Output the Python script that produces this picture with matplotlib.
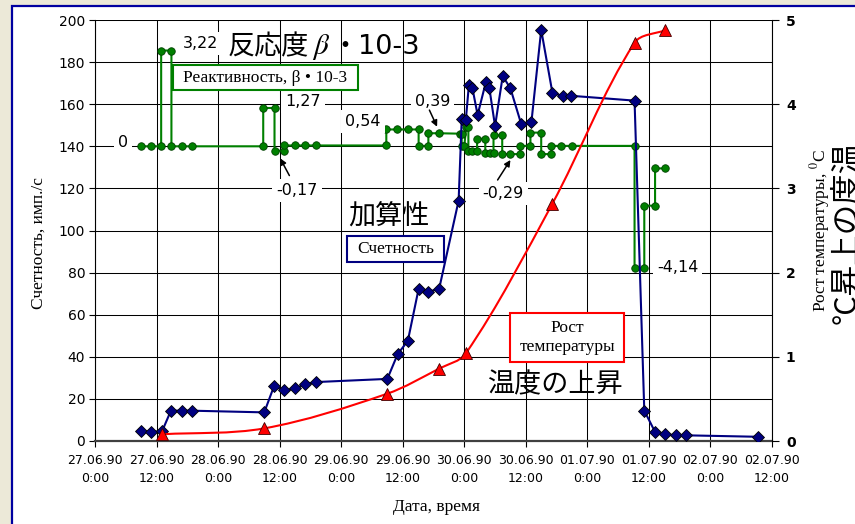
import numpy as np
import matplotlib
matplotlib.use("Agg")
import matplotlib.pyplot as plt
from matplotlib.patches import Rectangle, PathPatch
from matplotlib.path import Path

plt.rcParams['font.family'] = ['DejaVu Sans']
plt.rcParams['mathtext.fontset'] = 'stix'

# hours since 27.06.90 0:00
tick_hours = list(range(0, 133, 12))
tick_labels = ['27.06.90\n0:00', '27.06.90\n12:00', '28.06.90\n0:00', '28.06.90\n12:00',
               '29.06.90\n0:00', '29.06.90\n12:00', '30.06.90\n0:00', '30.06.90\n12:00',
               '01.07.90\n0:00', '01.07.90\n12:00', '02.07.90\n0:00', '02.07.90\n12:00']

# Счетность (left axis)
count_h = [8.9, 10.9, 13.1, 14.8, 17.0, 18.9, 33.0, 34.9, 36.9, 39.0, 41.0, 43.1, 57.0,
           59.0, 61.0, 63.1, 65.0, 67.1, 70.9, 71.5, 72.3, 72.9, 73.6, 74.6, 76.2, 76.9,
           78.0, 79.5, 81.0, 83.1, 85.1, 87.0, 89.2, 91.2, 92.8, 105.2, 107.1, 109.2,
           111.2, 113.2, 115.2, 129.3]
count_v = [4.75, 4.3, 4.75, 14.4, 14.4, 14.4, 13.6, 26.0, 24.0, 25.0, 27.0, 28.0, 29.5,
           41.2, 47.6, 72.3, 70.9, 72.3, 114.2, 152.8, 152.5, 169.1, 167.5, 154.9, 170.4,
           167.5, 149.6, 173.4, 167.5, 150.6, 151.7, 195.3, 165.2, 164.0, 164.0, 161.7,
           14.4, 4.3, 3.2, 2.7, 2.7, 2.0]

# Реактивность (drawn in left-axis units)
react_h = [8.9, 10.9, 12.9, 12.9, 14.9, 14.9, 16.9, 18.9,
           32.8, 32.8, 35.0, 35.0, 36.9, 36.9, 39.0, 41.0, 43.0,
           56.8, 56.8, 58.9, 61.0, 63.1, 63.1, 65.0, 65.0, 67.0,
           71.1, 71.5, 71.5, 72.0, 72.4, 72.8, 72.8, 73.5, 74.5, 74.5, 76.1, 76.1, 77.1,
           77.7, 77.7, 79.4, 79.4, 81.0, 82.9, 82.9, 84.9, 84.9, 87.0, 87.0, 89.0, 89.0,
           90.9, 93.0, 105.2, 105.2, 107.1, 107.1, 109.2, 109.2, 111.1]
react_v = [140, 140, 140, 185.5, 185.5, 140, 140, 140,
           140, 158.2, 158.2, 137.9, 137.9, 140.4, 140.4, 140.4, 140.4,
           140.4, 148, 148, 148, 148, 140.2, 140.2, 146.2, 146.2,
           146, 146, 140.2, 140.2, 149.3, 149.3, 137.9, 137.9, 137.9, 143.6, 143.6, 136.7, 136.7,
           136.7, 145.2, 145.2, 136.3, 136.3, 136.3, 140.2, 140.2, 146.5, 146.5, 136.3, 136.3, 140.2,
           140.2, 140.2, 140.2, 82, 82, 111.8, 111.8, 129.5, 129.5]

# Рост температуры (right axis)
temp_h = [13.1, 33.0, 56.9, 67.1, 72.3, 89.1, 105.2, 111.2]
temp_v = [0.08, 0.15, 0.56, 0.86, 1.04, 2.81, 4.73, 4.88]

react_notes = ['0', '3,22', '1,27', '0,54', '0,39', '-0,17', '-0,29', '-4,14']

fig = plt.figure(figsize=(8.55, 5.24), dpi=100, facecolor='#ECE9D8')
fig.patches.append(Rectangle((12 / 855, -0.1), 1.2, 1.1 - 6 / 524, transform=fig.transFigure,
                             facecolor='white', edgecolor='#0000A0', lw=1.6, zorder=-5))

ax = fig.add_axes([95 / 855, 1 - 441 / 524, 677 / 855, 421 / 524])
ax.set_facecolor('white')
ax.set_xlim(0, 132)
ax.set_ylim(0, 200)
ax.set_xticks(tick_hours)
ax.set_xticklabels(tick_labels, fontsize=9, linespacing=1.5)
ax.set_yticks(range(0, 201, 20))
ax.tick_params(axis='y', labelsize=10, length=4, width=0.8, pad=3)
ax.tick_params(axis='x', length=4, width=0.8, pad=5)
ax.grid(True, color='black', lw=0.75, zorder=0)
ax.set_axisbelow(True)
for s in ['top', 'right']:
    ax.spines[s].set_visible(False)
ax.spines['left'].set_linewidth(0.8)
ax.spines['bottom'].set_linewidth(1.6)
ax.spines['bottom'].set_color('#404040')

serif = 'Liberation Serif'
ax.set_ylabel('Счетность, имп./с', family=serif, fontsize=12.5)
ax.yaxis.set_label_coords(-(95 - 47) / 677, 0.469)
ax.set_xlabel('Дата, время', family=serif, fontsize=12.5)
ax.xaxis.set_label_coords(0.505, -(499 - 441) / 421)

ax.plot(react_h, react_v, color='#008000', lw=1.5, marker='o', ms=5.4,
        mfc='#008000', mec='#004000', mew=0.6, zorder=3)
ax.plot(count_h, count_v, color='#000080', lw=1.5, marker='D', ms=6.3,
        mfc='#000080', mec='black', mew=0.6, zorder=4)

# labels of reactivity steps
note_pos = [(5.5, 141.6), (20.5, 189), (40.6, 161.5), (52.3, 152), (65.8, 161.5),
            (39.4, 119.2), (79.6, 117.8), (113.6, 82.2)]
for txt, (xh, yv) in zip(react_notes, note_pos):
    ax.text(xh, yv, txt, fontsize=11.5, ha='center', va='center', zorder=5,
            bbox=dict(boxstyle='square,pad=0.25', fc='white', ec='none'))
arrows = [((37.9, 126.1), (36.1, 134.3)), ((65.2, 157.2), (66.7, 149.3)),
          ((78.5, 124.0), (81.0, 133.5))]
for tail, head in arrows:
    ax.annotate('', xy=head, xytext=tail, zorder=6,
                arrowprops=dict(arrowstyle='-|>', color='black', lw=1.1,
                                mutation_scale=9, shrinkA=0, shrinkB=0))

jp = ['Noto Sans CJK JP', 'DejaVu Sans']
ax.text(25.95, 183.8, '反応度', fontsize=19.5, family=jp, ha='left', va='baseline', zorder=5)
ax.text(42.4, 183.8, '$\\beta$', fontsize=21, ha='left', va='baseline', zorder=5)
ax.text(46.0, 183.8, '・10-3', fontsize=19.5, family=['DejaVu Sans', 'Noto Sans CJK JP'],
        ha='left', va='baseline', zorder=5)
ax.text(49.4, 106.4, '加算性', fontsize=19.5, family=jp, ha='left', va='center', zorder=5)
ax.text(76.5, 26.6, '温度の上昇', fontsize=19.5, family=jp, ha='left', va='center', zorder=5)

# legend-like boxes
boxes = [((0.1152, 0.8337), 0.2733, 0.0594, '#008000', (0.2518, 0.8634),
          'Реактивность, β • 10-3'),
         ((0.3722, 0.4245), 0.1433, 0.0625, '#000080', (0.4443, 0.4556), 'Счетность'),
         ((0.6130, 0.1869), 0.1688, 0.1178, '#FF0000', (0.6972, 0.2458), 'Рост\nтемпературы')]
for (xy, w, h, col, cxy, txt) in boxes:
    ax.add_patch(Rectangle(xy, w, h, transform=ax.transAxes, fc='white', ec=col,
                           lw=1.5, zorder=5))
    ax.text(cxy[0], cxy[1], txt, transform=ax.transAxes, family=serif,
            fontsize=12.5, ha='center', va='center', zorder=6, linespacing=1.2)

ax2 = ax.twinx()
ax2.set_ylim(0, 5)
ax2.set_yticks(range(0, 6))
ax2.set_yticklabels([str(i) for i in range(0, 6)], fontweight='bold', fontsize=10)
ax2.tick_params(axis='y', length=5, width=0.8, pad=5)
for s in ['top', 'left', 'bottom']:
    ax2.spines[s].set_visible(False)
ax2.spines['right'].set_linewidth(0.8)
ax2.set_ylabel('Рост температуры, $^{0}$C', family=serif, fontsize=12.5)
ax2.yaxis.set_label_coords((808 - 95) / 677, 0.5)
ax2.text((846 - 95) / 677, 0.496, '°C昇上の度温', transform=ax2.transAxes, rotation=90,
         fontsize=22, family=jp, ha='center', va='center', clip_on=False)

# smoothed temperature curve: cubic Bezier through the points,
# tangents weighted by neighbouring segment lengths in pixel space
pts = np.column_stack([temp_h, temp_v])
px = pts * np.array([5.125, 84.2])
verts = [pts[0]]
codes = [Path.MOVETO]
n = len(pts)


def ctrl(i, sign):
    a = max(i - 1, 0)
    b = min(i + 1, n - 1)
    d_prev = np.hypot(*(px[i] - px[a]))
    d_next = np.hypot(*(px[b] - px[i]))
    if d_prev + d_next == 0:
        return pts[i]
    d = d_next if sign > 0 else d_prev
    return pts[i] + sign * (pts[b] - pts[a]) * d / (d_prev + d_next) / 3


for i in range(n - 1):
    verts += [ctrl(i, 1), ctrl(i + 1, -1), pts[i + 1]]
    codes += [Path.CURVE4] * 3
ax2.add_patch(PathPatch(Path(verts, codes), fc='none', ec='#FF0000', lw=1.5, zorder=3))
ax2.plot(temp_h, temp_v, ls='none', marker='^', ms=8, mfc='#FF0000', mec='#400000',
         mew=0.6, zorder=4)

fig.savefig('out.png', dpi=100, facecolor=fig.get_facecolor())
